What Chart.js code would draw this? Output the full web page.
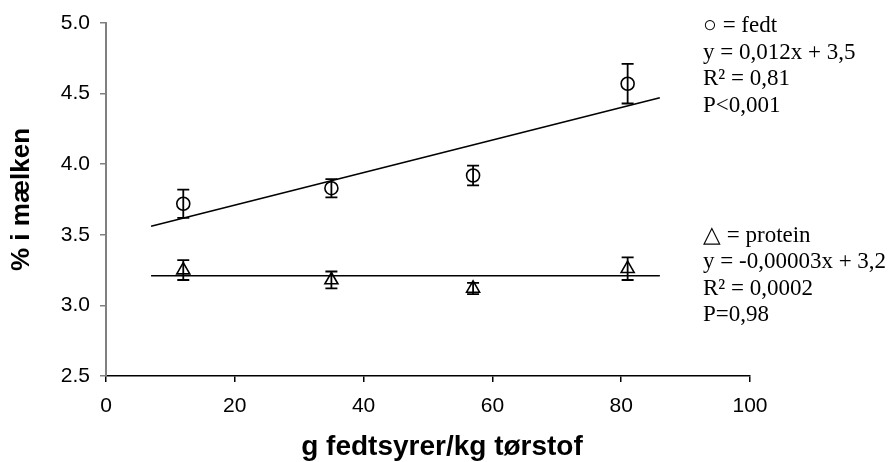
<!DOCTYPE html>
<html>
<head>
<meta charset="utf-8">
<script src="https://cdn.jsdelivr.net/npm/chart.js@4/dist/chart.umd.min.js"></script>
<style>
  html, body { margin: 0; padding: 0; background: #ffffff; }
  #wrap { width: 891px; height: 462px; }
</style>
</head>
<body>
<div id="wrap"><canvas id="c" width="891" height="462"></canvas></div>
<script>
// ---- data ----
const xValues = [12, 35, 57, 81];
const fedtValues = [3.72, 3.83, 3.92, 4.57];
const fedtErrors = [0.10, 0.065, 0.07, 0.14];
const proteinValues = [3.25, 3.18, 3.12, 3.26];
const proteinErrors = [0.07, 0.06, 0.04, 0.08];
const trendX = [7, 86];
const fedtTrendY = [3.56, 4.47];
const proteinTrendY = [3.21, 3.21];
const yTicks = [2.5, 3.0, 3.5, 4.0, 4.5, 5.0];
const xTicks = [0, 20, 40, 60, 80, 100];
const fedtText = ['\u25CB = fedt', 'y = 0,012x + 3,5', 'R\u00B2 = 0,81', 'P<0,001'];
const proteinText = ['\u25B3 = protein', 'y = -0,00003x + 3,2', 'R\u00B2 = 0,0002', 'P=0,98'];
const yTitle = '% i mælken';
const xTitle = 'g fedtsyrer/kg tørstof';

const pts = (xs, ys) => xs.map((x, i) => ({ x: x, y: ys[i] }));

const errorBars = {
  id: 'errorBars',
  afterDatasetsDraw(chart) {
    const ctx = chart.ctx;
    const xs = chart.scales.x, ys = chart.scales.y;
    const sets = [[fedtValues, fedtErrors], [proteinValues, proteinErrors]];
    ctx.save();
    ctx.strokeStyle = '#000';
    ctx.lineWidth = 1.8;
    sets.forEach(([vals, errs]) => {
      vals.forEach((v, i) => {
        const px = xs.getPixelForValue(xValues[i]);
        const t = ys.getPixelForValue(v + errs[i]);
        const b = ys.getPixelForValue(v - errs[i]);
        ctx.beginPath();
        ctx.moveTo(px, t); ctx.lineTo(px, b);
        ctx.moveTo(px - 6, t); ctx.lineTo(px + 6, t);
        ctx.moveTo(px - 6, b); ctx.lineTo(px + 6, b);
        ctx.stroke();
      });
    });
    ctx.restore();
  }
};

const notes = {
  id: 'notes',
  afterDraw(chart) {
    const ctx = chart.ctx;
    const area = chart.chartArea;
    ctx.save();
    ctx.fillStyle = '#000';
    ctx.font = '23px "Liberation Serif", "Times New Roman", serif';
    ctx.textBaseline = 'alphabetic';
    ctx.textAlign = 'left';
    const x0 = 703;
    fedtText.forEach((t, i) => ctx.fillText(t, x0, 32 + i * 26.7));
    proteinText.forEach((t, i) => ctx.fillText(t, x0, 242 + i * 26.3));
    // x axis title
    ctx.font = 'bold 28px "Liberation Sans", Arial, sans-serif';
    ctx.textAlign = 'center';
    ctx.fillText(xTitle, (area.left + area.right) / 2 + 14, 455);
    ctx.restore();
  }
};

new Chart(document.getElementById('c'), {
  type: 'scatter',
  data: {
    datasets: [
      {
        label: 'fedt trend',
        data: pts(trendX, fedtTrendY),
        showLine: true,
        borderColor: '#000',
        borderWidth: 1.6,
        pointRadius: 0,
        order: 3
      },
      {
        label: 'protein trend',
        data: pts(trendX, proteinTrendY),
        showLine: true,
        borderColor: '#000',
        borderWidth: 1.6,
        pointRadius: 0,
        order: 3
      },
      {
        label: 'fedt',
        data: pts(xValues, fedtValues),
        pointStyle: 'circle',
        pointRadius: 6.5,
        pointBorderWidth: 1.6,
        pointBorderColor: '#000',
        pointBackgroundColor: 'rgba(255,255,255,0)',
        order: 1
      },
      {
        label: 'protein',
        data: pts(xValues, proteinValues),
        pointStyle: 'triangle',
        pointRadius: 7.5,
        pointBorderWidth: 1.6,
        pointBorderColor: '#000',
        pointBackgroundColor: 'rgba(255,255,255,0)',
        order: 1
      }
    ]
  },
  options: {
    responsive: false,
    animation: false,
    events: [],
    layout: { padding: { left: 0, right: 141, top: 23, bottom: 0 } },
    plugins: {
      legend: { display: false },
      tooltip: { enabled: false },
      title: { display: false }
    },
    scales: {
      x: {
        type: 'linear',
        min: 0, max: 100,
        afterBuildTicks(scale) { scale.ticks = xTicks.map(v => ({ value: v })); },
        afterFit(scale) { scale.height = 86; },
        grid: { display: true, drawOnChartArea: false, drawTicks: true, tickLength: 6, color: '#000', lineWidth: 1.5 },
        border: { display: true, color: '#000', width: 1.5 },
        ticks: {
          color: '#000',
          padding: 12,
          font: { family: '"Liberation Sans", Arial, sans-serif', size: 21 },
          callback: v => String(v),
          maxRotation: 0
        },
        title: { display: false, text: xTitle }
      },
      y: {
        type: 'linear',
        min: 2.5, max: 5,
        afterBuildTicks(scale) { scale.ticks = yTicks.map(v => ({ value: v })); },
        afterFit(scale) { scale.width = 106; },
        grid: { display: true, drawOnChartArea: false, drawTicks: true, tickLength: 6, color: '#808080', lineWidth: 1.5 },
        border: { display: true, color: '#808080', width: 2 },
        ticks: {
          color: '#000',
          padding: 10,
          font: { family: '"Liberation Sans", Arial, sans-serif', size: 21 },
          callback: v => Number(v).toFixed(1)
        },
        title: {
          display: true,
          text: yTitle,
          color: '#000',
          font: { family: '"Liberation Sans", Arial, sans-serif', size: 26, weight: 'bold' },
          padding: { top: 6, bottom: 0 }
        }
      }
    }
  },
  plugins: [errorBars, notes]
});
</script>
</body>
</html>
